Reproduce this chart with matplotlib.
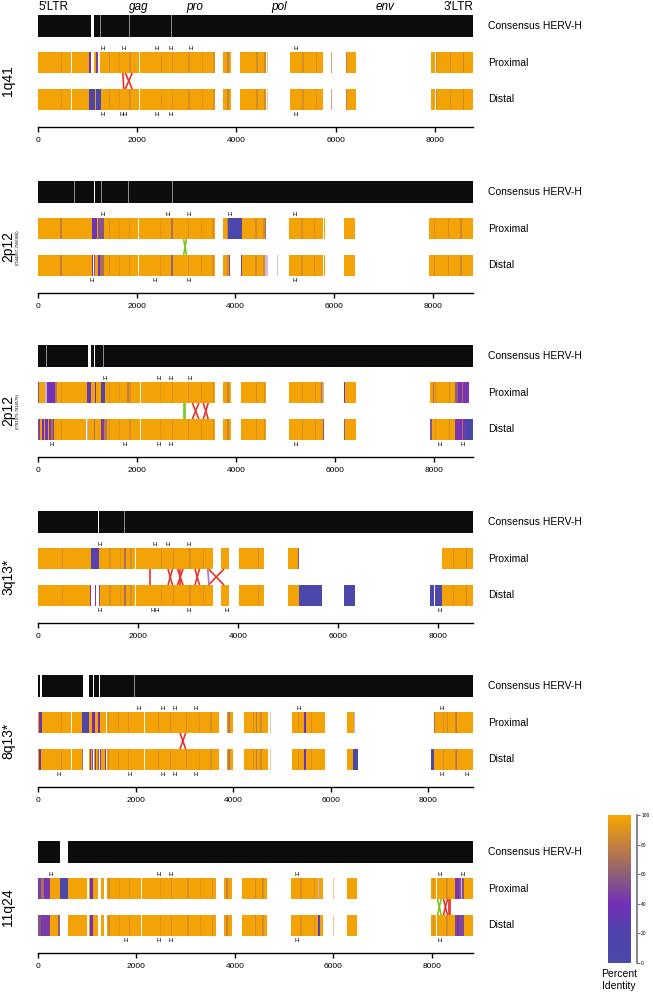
import matplotlib
matplotlib.use("Agg")
import matplotlib.pyplot as plt
import numpy as np
from matplotlib.colors import LinearSegmentedColormap, Normalize

plt.rcParams["font.family"] = ["Liberation Sans", "DejaVu Sans"]

# ---- data (positions in bp along the HERV-H consensus) ----
# stripes: (start, end, percent identity, alpha)
PANEL_NAMES = ["1q41", "2p12", "2p12", "3q13*", "8q13*", "11q24"]
PANEL_SUBTITLES = ["", "(7544857-7566806)", "(7781979-7818578)", "", "", ""]
PANEL_LENGTHS = [8770, 8815, 8790, 8700, 8920, 8840]
TICKS = [0, 2000, 4000, 6000, 8000]
GENE_LABELS = ["5'LTR", "gag", "pro", "pol", "env", "3'LTR"]
GENE_POS = [0, 2026, 3155, 4870, 7006, 8770]
BASE_PID = 98

# darker texture shared by all aligned copies
TEXTURE = [(470, 490, 88), (1430, 1460, 88), (1640, 1660, 90), (1840, 1870, 88),
           (2470, 2490, 90), (2700, 2720, 88), (3030, 3060, 88), (3300, 3320, 90),
           (3530, 3560, 88), (3820, 3860, 82), (4400, 4430, 86), (4560, 4590, 86),
           (5330, 5360, 88), (5600, 5620, 88), (8030, 8050, 86), (8300, 8330, 86),
           (8560, 8590, 84)]

# 1q41
P1_CONS_GAPS = [(1064, 1131)]
P1_CONS_LINES = [1252, 1845, 2700]
P1_PROX_SEGS = [(0, 660), (680, 1070), (1120, 1205), (1240, 2040), (2060, 3575),
                (3730, 3895), (4080, 4600), (4620, 4645), (5090, 5750), (5910, 5928),
                (5958, 5976), (6205, 6420), (7920, 8010), (8030, 8770)]
P1_PROX_STRIPES = [(1035, 1070, 40, 1), (1170, 1205, 45, 1), (4620, 4645, 90, 0.5),
                   (5910, 5928, 80, 0.7), (5958, 5976, 80, 0.7), (6205, 6225, 80, 1)]
P1_DIST_SEGS = [(0, 660), (680, 2040), (2060, 3575), (3730, 3895), (4080, 4600),
                (4620, 4645), (5090, 5750), (5910, 5928), (5958, 5976), (6205, 6420),
                (7920, 8010), (8030, 8770)]
P1_DIST_STRIPES = [(1035, 1140, 15, 1), (1170, 1265, 12, 1), (4620, 4645, 90, 0.5),
                   (5910, 5928, 80, 0.7), (5958, 5976, 80, 0.7), (6205, 6225, 80, 1)]
P1_PROX_H = [1307, 1737, 2398, 2667, 3085, 5205]
P1_DIST_H = [1307, 1690, 1750, 2398, 2667, 5205]
P1_RED = [(1710, 1730), (1760, 1900), (1900, 1760)]
P1_GREEN = []
P1_PURPLE = []

# 2p12 (7544857-7566806)
P2_CONS_GAPS = [(1125, 1145)]
P2_CONS_LINES = [466, 730, 1290, 1830, 2720]
P2_PROX_SEGS = [(0, 2020), (2045, 3587), (3742, 4613), (5090, 5770), (5800, 5820),
                (6200, 6420), (7920, 8815)]
P2_PROX_STRIPES = [(450, 480, 80, 1), (1100, 1190, 35, 1), (1220, 1330, 55, 1),
                   (2700, 2730, 70, 1), (3860, 4130, 8, 1), (4590, 4613, 70, 1)]
P2_DIST_SEGS = [(0, 1115), (1140, 2020), (2045, 3587), (3742, 3890), (4110, 4660),
                (4850, 4870), (5090, 5770), (5800, 5820), (6200, 6420), (7920, 8815)]
P2_DIST_STRIPES = [(450, 480, 80, 1), (1090, 1115, 40, 1), (1140, 1160, 55, 1),
                   (1220, 1260, 35, 1), (1260, 1330, 70, 1), (2700, 2730, 60, 1),
                   (3870, 3890, 45, 1), (4110, 4135, 45, 1), (4590, 4660, 45, 0.35),
                   (4850, 4870, 45, 0.35)]
P2_PROX_H = [1305, 2620, 3050, 3880, 5210]
P2_DIST_H = [1090, 2370, 3050, 5210]
P2_RED = []
P2_GREEN = [(2950, 3010), (3010, 2950)]
P2_PURPLE = []

# 2p12 (7781979-7818578)
P3_CONS_GAPS = [(1004, 1064), (1140, 1160)]
P3_CONS_LINES = [176, 1319]
P3_PROX_SEGS = [(0, 2060), (2080, 3580), (3744, 3890), (4106, 4610), (5080, 5770),
                (6180, 6420), (7920, 8710)]
P3_PROX_STRIPES = [(0, 30, 55, 1), (150, 175, 45, 0.4), (180, 340, 40, 1),
                   (340, 380, 75, 1), (1000, 1080, 30, 1), (1150, 1170, 40, 1),
                   (1270, 1345, 15, 1), (1800, 1830, 80, 1), (5720, 5740, 70, 1),
                   (5750, 5770, 45, 0.4), (6180, 6200, 40, 1), (7980, 8000, 70, 1),
                   (8420, 8480, 60, 1), (8480, 8710, 42, 1), (8560, 8580, 70, 1)]
P3_DIST_SEGS = [(0, 960), (985, 2060), (2080, 3580), (3744, 3890), (4106, 4610),
                (5080, 5770), (6180, 6420), (7920, 8790)]
P3_DIST_STRIPES = [(0, 20, 55, 1), (30, 50, 45, 1), (80, 120, 40, 1), (150, 200, 35, 1),
                   (220, 260, 45, 1), (260, 300, 70, 1), (310, 330, 45, 1),
                   (985, 1010, 45, 0.4), (1130, 1160, 70, 1), (1270, 1330, 45, 1),
                   (1330, 1400, 75, 1), (5750, 5770, 55, 1), (6180, 6200, 60, 1),
                   (7930, 7960, 55, 1), (8420, 8620, 42, 1), (8560, 8580, 70, 1),
                   (8620, 8790, 8, 1)]
P3_PROX_H = [1345, 2430, 2680, 3070]
P3_DIST_H = [277, 1757, 2430, 2680, 5210, 8120, 8580]
P3_RED = [(3120, 3250), (3250, 3120), (3340, 3440), (3440, 3340)]
P3_GREEN = [(2955, 2955), (2980, 2980)]
P3_PURPLE = []

# 3q13*
P4_CONS_GAPS = [(1195, 1220)]
P4_CONS_LINES = [1740]
P4_PROX_SEGS = [(0, 1940), (1970, 3507), (3660, 3813), (4027, 4520), (5007, 5220),
                (8073, 8700)]
P4_PROX_STRIPES = [(1053, 1227, 8, 1), (1150, 1175, 40, 1), (1720, 1760, 70, 1),
                   (5200, 5220, 55, 1), (8073, 8090, 70, 1)]
P4_DIST_SEGS = [(0, 1060), (1150, 1170), (1215, 1940), (1970, 3507), (3660, 3813),
                (4027, 4520), (5007, 5673), (6120, 6340), (7840, 7930), (7950, 8700)]
P4_DIST_STRIPES = [(1040, 1060, 45, 1), (1150, 1170, 45, 1), (1215, 1235, 55, 1),
                   (1720, 1760, 70, 1), (5220, 5673, 8, 1), (6120, 6340, 8, 1),
                   (7840, 7930, 8, 1), (7950, 8073, 8, 1)]
P4_PROX_H = [1227, 2327, 2587, 3007]
P4_DIST_H = [1227, 2300, 2380, 3007, 3773, 8027]
P4_RED = [(2240, 2240), (2600, 2690), (2690, 2600), (2790, 2900), (2900, 2790),
          (2850, 2850), (3140, 3230), (3230, 3140), (3410, 3720), (3720, 3410)]
P4_GREEN = []
P4_PURPLE = [(3395, 3420)]

# 8q13*
P5_CONS_GAPS = [(45, 90), (930, 1053), (1121, 1155), (1251, 1272)]
P5_CONS_LINES = [1976]
P5_PROX_SEGS = [(0, 680), (700, 1395), (1415, 2170), (2190, 3712), (3870, 4006),
                (4232, 4725), (4755, 4775), (5216, 5887), (6331, 6502), (8128, 8916)]
P5_PROX_STRIPES = [(30, 90, 35, 1), (909, 1053, 8, 1), (1107, 1161, 40, 1),
                   (1238, 1272, 40, 1), (3890, 3930, 75, 1), (4470, 4500, 78, 1),
                   (4755, 4775, 90, 0.5), (5460, 5490, 35, 1), (6480, 6502, 45, 0.4),
                   (8128, 8150, 70, 1), (8380, 8400, 85, 1), (8570, 8600, 75, 1)]
P5_DIST_SEGS = [(0, 680), (700, 930), (1053, 1121), (1155, 1251), (1272, 1395),
                (1415, 2170), (2190, 3712), (3870, 4006), (4232, 4725), (4755, 4775),
                (5216, 5887), (6331, 6563), (8061, 8916)]
P5_DIST_STRIPES = [(30, 70, 40, 1), (900, 930, 70, 1), (1060, 1080, 45, 1),
                   (1100, 1121, 55, 1), (1160, 1180, 45, 1), (1230, 1251, 55, 1),
                   (1280, 1300, 45, 1), (1380, 1395, 45, 1), (3890, 3930, 75, 1),
                   (4470, 4500, 78, 1), (4755, 4775, 90, 0.5), (5460, 5490, 35, 1),
                   (6468, 6563, 8, 1), (8061, 8128, 8, 1), (8570, 8600, 70, 1)]
P5_PROX_H = [2058, 2550, 2810, 3234, 5353, 8280]
P5_DIST_H = [417, 1887, 2550, 2810, 3234, 8280, 8793]
P5_RED = [(2912, 3029), (3029, 2912)]
P5_GREEN = []
P5_PURPLE = []

# 11q24
P6_CONS_GAPS = [(447, 616)]
P6_CONS_LINES = [244]
P6_PROX_SEGS = [(0, 990), (1037, 1226), (1275, 1348), (1396, 2098), (2118, 3619),
                (3781, 3937), (4141, 4649), (5143, 5787), (5995, 6012), (6050, 6066),
                (6276, 6479), (7983, 8080), (8100, 8840)]
P6_PROX_STRIPES = [(0, 60, 45, 1), (60, 120, 70, 1), (120, 250, 42, 1), (447, 616, 8, 1),
                   (1060, 1120, 40, 1), (5690, 5720, 45, 0.4), (5995, 6012, 90, 0.5),
                   (6050, 6066, 90, 0.5), (8478, 8560, 42, 1), (8560, 8647, 55, 1),
                   (8600, 8620, 45, 0.4)]
P6_DIST_SEGS = [(0, 447), (616, 990), (1037, 1226), (1275, 1348), (1396, 2098),
                (2118, 3619), (3781, 3937), (4141, 4649), (5143, 5787), (5995, 6012),
                (6050, 6066), (6276, 6479), (7983, 8080), (8100, 8840)]
P6_DIST_STRIPES = [(0, 60, 55, 1), (60, 240, 45, 1), (400, 447, 60, 1),
                   (1060, 1120, 40, 1), (5700, 5740, 20, 1), (5995, 6012, 90, 0.5),
                   (6050, 6066, 90, 0.5), (8478, 8647, 50, 1), (8520, 8560, 42, 1)]
P6_PROX_H = [258, 2460, 2705, 5260, 8173, 8634]
P6_DIST_H = [1789, 2460, 2705, 5260, 8173]
P6_RED = [(8239, 8321), (8321, 8239), (8350, 8350), (8370, 8370)]
P6_GREEN = [(8118, 8193), (8193, 8118)]
P6_PURPLE = []

CONS_GAPS = [P1_CONS_GAPS, P2_CONS_GAPS, P3_CONS_GAPS, P4_CONS_GAPS, P5_CONS_GAPS, P6_CONS_GAPS]
CONS_LINES = [P1_CONS_LINES, P2_CONS_LINES, P3_CONS_LINES, P4_CONS_LINES, P5_CONS_LINES, P6_CONS_LINES]
PROX_SEGS = [P1_PROX_SEGS, P2_PROX_SEGS, P3_PROX_SEGS, P4_PROX_SEGS, P5_PROX_SEGS, P6_PROX_SEGS]
PROX_STRIPES = [P1_PROX_STRIPES, P2_PROX_STRIPES, P3_PROX_STRIPES, P4_PROX_STRIPES,
                P5_PROX_STRIPES, P6_PROX_STRIPES]
DIST_SEGS = [P1_DIST_SEGS, P2_DIST_SEGS, P3_DIST_SEGS, P4_DIST_SEGS, P5_DIST_SEGS, P6_DIST_SEGS]
DIST_STRIPES = [P1_DIST_STRIPES, P2_DIST_STRIPES, P3_DIST_STRIPES, P4_DIST_STRIPES,
                P5_DIST_STRIPES, P6_DIST_STRIPES]
PROX_H = [P1_PROX_H, P2_PROX_H, P3_PROX_H, P4_PROX_H, P5_PROX_H, P6_PROX_H]
DIST_H = [P1_DIST_H, P2_DIST_H, P3_DIST_H, P4_DIST_H, P5_DIST_H, P6_DIST_H]
RED_LINKS = [P1_RED, P2_RED, P3_RED, P4_RED, P5_RED, P6_RED]
GREEN_LINKS = [P1_GREEN, P2_GREEN, P3_GREEN, P4_GREEN, P5_GREEN, P6_GREEN]
PURPLE_LINKS = [P1_PURPLE, P2_PURPLE, P3_PURPLE, P4_PURPLE, P5_PURPLE, P6_PURPLE]

# ---- style ----
W, H = 653, 992
AXIS_Y = [127, 293, 457, 623, 787, 953]   # pixel row of each x axis
CMAP = LinearSegmentedColormap.from_list(
    "pid", [(0.0, "#4a4aa8"), (0.2, "#5043ac"), (0.4, "#7430b8"),
            (0.6, "#8e6079"), (0.8, "#c47f3e"), (1.0, "#f8a700")])
NORM = Normalize(0, 100)
CONS_Y, PROX_Y, DIST_Y = (90, 22), (54, 21), (17, 21)


def bar(ax, x0, x1, y, color, alpha=1.0):
    ax.bar(x0, y[1], width=x1 - x0, bottom=y[0], align="edge", color=color,
           alpha=alpha, linewidth=0, antialiased=False)


def draw_row(ax, segs, stripes, y):
    for s0, s1 in segs:
        bar(ax, s0, s1, y, CMAP(NORM(BASE_PID)))
        for t0, t1, pid in TEXTURE:
            a, b = max(s0, t0), min(s1, t1)
            if a < b:
                bar(ax, a, b, y, CMAP(NORM(pid)))
    for t0, t1, pid, alpha in stripes:
        bar(ax, t0, t1, y, "white")
        bar(ax, t0, t1, y, CMAP(NORM(pid)), alpha)


fig = plt.figure(figsize=(W / 100, H / 100), dpi=100)

for i in range(6):
    L = PANEL_LENGTHS[i]
    ax = fig.add_axes([38 / W, 1 - AXIS_Y[i] / H, 435 / W, 114 / H])
    ax.set_xlim(0, L)
    ax.set_ylim(0, 114)

    # consensus
    bar(ax, 0, L, CONS_Y, "#0d0d0d")
    for g0, g1 in CONS_GAPS[i]:
        bar(ax, g0, g1, CONS_Y, "white")
    for x in CONS_LINES[i]:
        bar(ax, x - 10, x + 10, CONS_Y, "#8a8a8a")

    draw_row(ax, PROX_SEGS[i], PROX_STRIPES[i], PROX_Y)
    draw_row(ax, DIST_SEGS[i], DIST_STRIPES[i], DIST_Y)

    # links between copies
    top, bot = PROX_Y[0], DIST_Y[0] + DIST_Y[1]
    for links, col in ((RED_LINKS[i], "#e8322a"), (GREEN_LINKS[i], "#78c81e"),
                       (PURPLE_LINKS[i], "#a877d8")):
        for p, d in links:
            ax.plot([p, d], [top, bot], color=col, lw=1.2, solid_capstyle="butt")

    for x in PROX_H[i]:
        ax.text(x, top + PROX_Y[1] + 1.5, "H", ha="center", va="bottom", fontsize=4.5)
    for x in DIST_H[i]:
        ax.text(x, DIST_Y[0] - 2.5, "H", ha="center", va="top", fontsize=4.5)

    # labels on the right
    tr = ax.get_yaxis_transform()
    for lab, (y0, h) in zip(["Consensus HERV-H", "Proximal", "Distal"], [CONS_Y, PROX_Y, DIST_Y]):
        ax.text(1 + 15 / 435, y0 + h / 2, lab, transform=tr, ha="left", va="center",
                fontsize=7.5)

    # panel name
    mid = (PROX_Y[0] + DIST_Y[0] + DIST_Y[1]) / 2
    ytxt = 1 - (AXIS_Y[i] - mid) / H
    fig.text(8 / W, ytxt, PANEL_NAMES[i], rotation=90, ha="center", va="center", fontsize=10)
    if PANEL_SUBTITLES[i]:
        fig.text(18 / W, ytxt, PANEL_SUBTITLES[i], rotation=90, ha="center", va="center",
                 fontsize=3)

    for s in ("top", "right", "left"):
        ax.spines[s].set_visible(False)
    ax.spines["bottom"].set_linewidth(1.0)
    ax.set_yticks([])
    ax.set_xticks(TICKS)
    ax.set_xticklabels([str(t) for t in TICKS])
    ax.tick_params(axis="x", length=3.5, width=1.0, pad=3.5, labelsize=6)

    if i == 0:
        for lab, x in zip(GENE_LABELS, GENE_POS):
            ha = "left" if lab == "5'LTR" else ("right" if lab == "3'LTR" else "center")
            style = "normal" if "LTR" in lab else "italic"
            ax.text(x, 117, lab, ha=ha, va="baseline", fontsize=8.5, style=style,
                    clip_on=False)

# colour scale
cax = fig.add_axes([608 / W, 1 - 963 / H, 23 / W, 148 / H])
grad = np.linspace(0, 100, 256).reshape(-1, 1)
cax.imshow(grad, cmap=CMAP, norm=NORM, aspect="auto", origin="lower", extent=[0, 1, 0, 100])
for s in ("top", "left", "bottom"):
    cax.spines[s].set_visible(False)
cax.spines["right"].set_position(("outward", 4.3))
cax.spines["right"].set_color("#8a8a8a")
cax.spines["right"].set_linewidth(1.5)
cax.set_xticks([])
cax.yaxis.tick_right()
cax.set_yticks([0, 20, 40, 60, 80, 100])
cax.tick_params(axis="y", length=2, width=0.6, color="#555555", pad=1, labelsize=3.5)
fig.text(619 / W, 1 - 980 / H, "Percent\nIdentity", ha="center", va="center",
         fontsize=7.5, linespacing=1.15)

fig.savefig("out.png", dpi=100)
